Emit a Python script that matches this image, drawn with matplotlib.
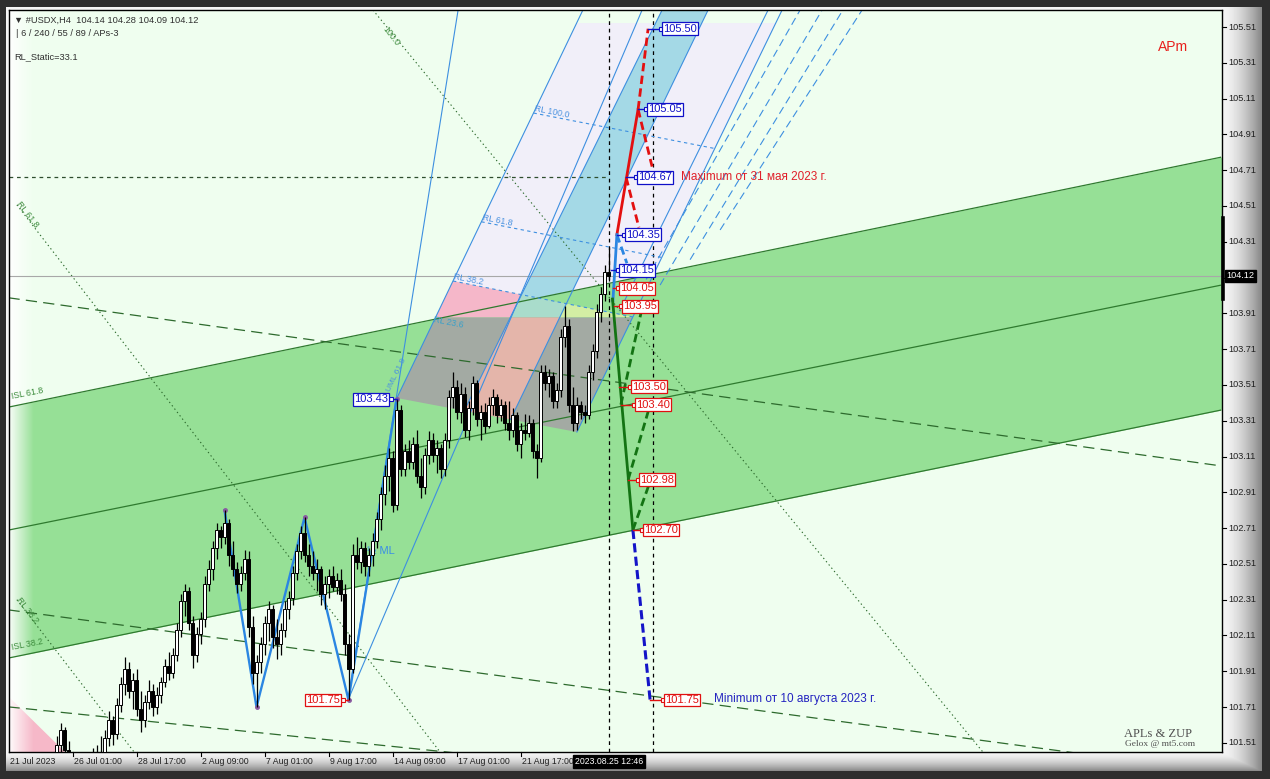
import numpy as np
import matplotlib.pyplot as plt
import matplotlib.transforms as mtransforms
from matplotlib.patches import Polygon

plt.rcParams['font.family'] = ['Liberation Sans', 'DejaVu Sans']

# ---------------- candles (H4 bars, index 0 = 21 Jul 2023) ----------------
first_bar = 12
opens = [101.42, 101.50, 101.58, 101.47, 101.38, 101.32, 101.36, 101.30, 101.35, 101.42,
         101.38, 101.46, 101.44, 101.54, 101.64, 101.56, 101.72, 101.84, 101.92, 101.80,
         101.86, 101.70, 101.64, 101.74, 101.80, 101.71, 101.78, 101.85, 101.94, 101.90,
         102.00, 102.14, 102.30, 102.36, 102.18, 102.00, 102.12, 102.20, 102.40, 102.48,
         102.60, 102.70, 102.66, 102.74, 102.56, 102.48, 102.40, 102.46, 102.54, 102.16,
         101.90, 101.96, 102.06, 102.18, 102.26, 102.10, 102.06, 102.14, 102.26, 102.32,
         102.46, 102.58, 102.68, 102.56, 102.50, 102.46, 102.48, 102.34, 102.40, 102.44,
         102.38, 102.42, 102.34, 102.06, 101.92, 102.56, 102.52, 102.60, 102.50, 102.56,
         102.64, 102.76, 102.90, 103.00, 103.10, 102.84, 103.37, 103.04, 103.14, 103.08,
         103.18, 103.00, 102.94, 103.12, 103.20, 103.12, 103.16, 103.04, 103.20, 103.44,
         103.50, 103.36, 103.46, 103.26, 103.38, 103.52, 103.32, 103.36, 103.28, 103.40,
         103.44, 103.34, 103.40, 103.30, 103.26, 103.34, 103.18, 103.26, 103.24, 103.30,
         103.14, 103.10, 103.58, 103.52, 103.56, 103.42, 103.48, 103.78, 103.84, 103.40,
         103.30, 103.40, 103.36, 103.34, 103.58, 103.70, 103.92, 104.02, 104.14]
highs = [101.55, 101.62, 101.60, 101.52, 101.44, 101.40, 101.42, 101.39, 101.46, 101.48,
         101.50, 101.55, 101.58, 101.69, 101.66, 101.76, 101.88, 101.99, 101.96, 101.90,
         101.92, 101.80, 101.78, 101.86, 101.84, 101.82, 101.88, 101.98, 102.02, 102.04,
         102.18, 102.34, 102.40, 102.38, 102.22, 102.16, 102.24, 102.44, 102.53, 102.64,
         102.74, 102.72, 102.81, 102.76, 102.64, 102.52, 102.50, 102.59, 102.58, 102.22,
         102.00, 102.10, 102.22, 102.30, 102.28, 102.20, 102.18, 102.30, 102.36, 102.50,
         102.62, 102.72, 102.77, 102.62, 102.58, 102.54, 102.50, 102.44, 102.48, 102.50,
         102.46, 102.48, 102.40, 102.12, 102.62, 102.66, 102.64, 102.63, 102.60, 102.68,
         102.80, 102.94, 103.06, 103.16, 103.14, 103.43, 103.40, 103.18, 103.20, 103.22,
         103.26, 103.10, 103.16, 103.25, 103.24, 103.20, 103.18, 103.24, 103.48, 103.58,
         103.54, 103.52, 103.50, 103.42, 103.56, 103.54, 103.40, 103.41, 103.44, 103.49,
         103.46, 103.43, 103.42, 103.42, 103.38, 103.36, 103.30, 103.35, 103.34, 103.32,
         103.18, 103.62, 103.62, 103.60, 103.58, 103.52, 103.82, 103.95, 103.88, 103.50,
         103.44, 103.42, 103.40, 103.62, 103.74, 103.96, 104.06, 104.18, 104.28]
lows = [101.38, 101.46, 101.44, 101.34, 101.28, 101.24, 101.27, 101.22, 101.30, 101.34,
        101.35, 101.40, 101.42, 101.49, 101.50, 101.53, 101.68, 101.78, 101.76, 101.70,
        101.66, 101.57, 101.60, 101.70, 101.66, 101.67, 101.73, 101.82, 101.86, 101.87,
        101.97, 102.10, 102.22, 102.14, 101.93, 101.96, 102.06, 102.16, 102.36, 102.42,
        102.54, 102.60, 102.62, 102.50, 102.44, 102.35, 102.36, 102.42, 102.10, 101.84,
        101.71, 101.90, 102.00, 102.08, 102.04, 101.98, 102.00, 102.10, 102.20, 102.28,
        102.42, 102.54, 102.52, 102.44, 102.42, 102.36, 102.28, 102.26, 102.32, 102.36,
        102.34, 102.30, 102.00, 101.75, 101.90, 102.48, 102.46, 102.44, 102.44, 102.50,
        102.60, 102.70, 102.84, 102.92, 102.80, 102.81, 103.00, 103.00, 103.04, 103.04,
        102.96, 102.88, 102.90, 103.07, 103.08, 103.02, 102.99, 103.00, 103.16, 103.38,
        103.32, 103.30, 103.22, 103.20, 103.34, 103.28, 103.20, 103.24, 103.27, 103.34,
        103.30, 103.31, 103.26, 103.20, 103.22, 103.14, 103.10, 103.20, 103.22, 103.10,
        102.99, 103.08, 103.48, 103.44, 103.38, 103.38, 103.44, 103.72, 103.36, 103.25,
        103.26, 103.32, 103.30, 103.32, 103.54, 103.66, 103.86, 103.98, 104.09]
closes = [101.50, 101.58, 101.47, 101.38, 101.32, 101.36, 101.30, 101.35, 101.42, 101.38,
          101.46, 101.44, 101.54, 101.64, 101.56, 101.72, 101.84, 101.92, 101.80, 101.86,
          101.70, 101.64, 101.74, 101.80, 101.71, 101.78, 101.85, 101.94, 101.90, 102.00,
          102.14, 102.30, 102.36, 102.18, 102.00, 102.12, 102.20, 102.40, 102.48, 102.60,
          102.70, 102.66, 102.74, 102.56, 102.48, 102.40, 102.46, 102.54, 102.16, 101.90,
          101.96, 102.06, 102.18, 102.26, 102.10, 102.06, 102.14, 102.26, 102.32, 102.46,
          102.58, 102.68, 102.56, 102.50, 102.46, 102.48, 102.34, 102.40, 102.44, 102.38,
          102.42, 102.34, 102.06, 101.92, 102.56, 102.52, 102.60, 102.50, 102.56, 102.64,
          102.76, 102.90, 103.00, 103.10, 102.84, 103.37, 103.04, 103.14, 103.08, 103.18,
          103.00, 102.94, 103.12, 103.20, 103.12, 103.16, 103.04, 103.20, 103.44, 103.50,
          103.36, 103.46, 103.26, 103.38, 103.52, 103.32, 103.36, 103.28, 103.40, 103.44,
          103.34, 103.40, 103.30, 103.26, 103.34, 103.18, 103.26, 103.24, 103.30, 103.14,
          103.10, 103.58, 103.52, 103.56, 103.42, 103.48, 103.78, 103.84, 103.40, 103.30,
          103.40, 103.36, 103.34, 103.58, 103.70, 103.92, 104.02, 104.14, 104.12]

time_ticks = [0, 16, 32, 48, 64, 80, 96, 112, 128]
time_labels = ['21 Jul 2023', '26 Jul 01:00', '28 Jul 17:00', '2 Aug 09:00', '7 Aug 01:00',
               '9 Aug 17:00', '14 Aug 09:00', '17 Aug 01:00', '21 Aug 17:00']
price_ticks = [105.51, 105.31, 105.11, 104.91, 104.71, 104.51, 104.31, 104.11, 103.91, 103.71,
               103.51, 103.31, 103.11, 102.91, 102.71, 102.51, 102.31, 102.11, 101.91, 101.71, 101.51]
bid = 104.12
now_bar = 150.1
second_vline = 161.1
day_range = [103.99, 104.44]

# ---------------- objects: (bar, price) anchors ----------------
ch_upper = [(0, 103.386), (303, 104.782)]
ch_mid = [(0, 102.699), (303, 104.067)]
ch_lower = [(0, 101.984), (303, 103.369)]
dash_lines = [[(0, 103.997), (303, 103.058)],
              [(0, 102.253), (303, 101.345)],
              [(0, 101.711), (303, 101.014)]]
dot_lines = [[(91.1, 105.605), (243.6, 101.459)],
             [(2.1, 104.516), (107.9, 101.459)],
             [(2.1, 102.31), (31.4, 101.459)]]
max_level = 104.67
upper_tine = [(97.1, 103.437), (143.6, 105.605)]
lower_tine = [(142.1, 103.247), (193.4, 105.605)]
band_left = [(118.6, 103.577), (163.4, 105.605)]
band_right = [(131.1, 103.577), (174.9, 105.605)]
steep_line = [(84.9, 101.75), (112.4, 105.605)]
median_line = [(84.9, 101.75), (158.4, 105.605)]
gray_bottom = [(97.1, 103.437), (142.1, 103.247)]
gray_top = [(0, 103.887), (300, 103.887)]
rl38 = [(111.1, 104.091), (156.1, 103.89)]
rl61 = [(118.6, 104.42), (172.9, 104.18)]
rl100 = [(131.1, 105.03), (175.9, 104.834)]
lav_top = 105.532
side_solid = [[(152.9, 103.93), (189.9, 105.605)]]
side_dashes = [[(157.9, 104.04), (197.9, 105.605)],
               [(162.9, 104.068), (203.4, 105.605)],
               [(170.4, 104.21), (208.6, 105.605)],
               [(177.9, 104.376), (213.4, 105.605)]]
pink_corner = [(0.125, 101.767), (0.125, 101.459), (14.1, 101.459)]

zup_bars = [54, 62, 74, 85, 97]
zup_prices = [102.81, 101.71, 102.77, 101.75, 103.43]

red_solid = [(152.1, 104.35), (157.4, 105.05)]
red_dashed = [[(157.4, 105.05), (159.9, 105.50)],
              [(157.4, 105.05), (160.9, 104.73)],
              [(154.4, 104.67), (157.6, 104.39)]]
blue_fc_solid = [(151.1, 103.98), (152.1, 104.35)]
blue_fc_dashed = [(152.1, 104.35), (154.6, 104.19)]
green_solid = [(151.0, 103.99), (156.1, 102.70)]
green_dashed = [[(156.1, 102.70), (160.4, 102.97)],
                [(154.9, 102.98), (159.9, 103.36)],
                [(153.1, 103.40), (158.1, 103.91)]]
navy_dashed = [(156.1, 102.70), (160.4, 101.75)]

blue_lbl_prices = [105.50, 105.05, 104.67, 104.35, 104.15]
blue_lbl_pivots = [159.9, 157.4, 154.4, 152.1, 150.6]
blue_lbl_boxes = [163.6, 159.9, 157.4, 154.4, 152.9]
red_lbl_prices = [104.05, 103.95, 103.50, 103.40, 102.98, 102.70, 101.75]
red_lbl_pivots = [151.1, 151.4, 152.6, 153.1, 154.9, 156.1, 160.4]
red_lbl_boxes = [152.9, 153.6, 155.9, 156.9, 157.9, 158.9, 164.1]

BLUE = '#3d8fe0'
DKGREEN = '#2d6a2d'


def at_x(line, x):
    (x1, y1), (x2, y2) = line
    return y1 + (y2 - y1) * (x - x1) / (x2 - x1)


def x_at(line, y):
    (x1, y1), (x2, y2) = line
    return x1 + (x2 - x1) * (y - y1) / (y2 - y1)


def cross(a, b):
    (x1, y1), (x2, y2) = a
    (x3, y3), (x4, y4) = b
    m1 = (y2 - y1) / (x2 - x1)
    m2 = (y4 - y3) / (x4 - x3)
    x = (y3 - y1 + m1 * x1 - m2 * x3) / (m1 - m2)
    return (x, y1 + m1 * (x - x1))


fig = plt.figure(figsize=(12.7, 7.79), dpi=100)
fig.patch.set_facecolor('#2e2e2e')

# terminal frame
bg = fig.add_axes([0, 0, 1, 1], zorder=-5)
H, W = 779, 1270
yy, xx = np.mgrid[0:H, 0:W]
shade = np.full((H, W), 0.18)
inside = (xx >= 6) & (xx < 1262) & (yy >= 7) & (yy < 771)
rx = np.clip((xx - 1222) / 40.0, 0, 1)
by = np.clip((yy - 752) / 19.0, 0, 1)
s = 0.96 - 0.45 * np.maximum(rx, by) ** 1.6
shade[inside] = s[inside]
bg.imshow(shade, cmap='gray', vmin=0, vmax=1, extent=(0, W, H, 0), aspect='auto')
bg.set_axis_off()

ax = fig.add_axes([9 / 1270, 27 / 779, 1213 / 1270, 742 / 779])
ax.set_facecolor('#effeef')
xmin, xmax = 0.125, 303.375
ymin, ymax = 101.459, 105.605
ax.set_xticks([])
ax.set_yticks([])
for sp in ax.spines.values():
    sp.set_color('black')
    sp.set_linewidth(1.0)


def poly(pts, color, z):
    ax.add_patch(Polygon(pts, closed=True, facecolor=color, edgecolor='none', zorder=z))


# lavender pitchfork zone
lav = [cross(upper_tine, rl38), (x_at(upper_tine, lav_top), lav_top),
       (x_at(lower_tine, lav_top), lav_top), cross(lower_tine, rl38)]
poly(lav, '#f1eff9', 1.0)
# cyan band above RL 38.2
poly([cross(band_left, rl38), (x_at(band_left, ymax), ymax),
      (x_at(band_right, ymax), ymax), cross(band_right, rl38)], '#a4d9e6', 1.1)

# green channel
xs = np.array([xmin, xmax])
ax.fill_between(xs, [at_x(ch_lower, v) for v in xs], [at_x(ch_upper, v) for v in xs],
                color='#96e096', lw=0, zorder=1.2)
poly(pink_corner, '#f6b8c8', 1.25)

# zones between RL 38.2 and the gray block
poly([cross(upper_tine, gray_top), cross(upper_tine, rl38),
      cross(band_left, rl38), cross(band_left, gray_top)], '#f5b7c9', 1.3)
poly([cross(band_left, rl38), cross(band_left, gray_top),
      cross(band_right, gray_top), cross(band_right, rl38)], '#a9dccb', 1.3)
poly([cross(band_right, rl38), cross(lower_tine, rl38), cross(band_right, gray_top)],
     '#d3eea4', 1.3)
poly([cross(upper_tine, gray_top), cross(lower_tine, gray_top),
      cross(lower_tine, gray_bottom), cross(upper_tine, gray_bottom)], '#a3aaa3', 1.4)
poly([cross(band_left, gray_top), cross(band_right, gray_top),
      cross(band_right, gray_bottom), cross(band_left, gray_bottom)], '#e4b5aa', 1.45)

# white fade at the left edge
fade = np.ones((1, 64, 4))
fade[0, :, 3] = np.linspace(0.95, 0.0, 64)
ax.imshow(fade, extent=(0, 0.02, 0, 1), transform=ax.transAxes, aspect='auto', zorder=1.9)
ax.set_xlim(xmin, xmax)
ax.set_ylim(ymin, ymax)


def seg(line, **kw):
    ax.plot([p[0] for p in line], [p[1] for p in line], **kw)


for ln in (ch_upper, ch_mid, ch_lower):
    seg(ln, color='#2f7a2f', lw=0.9, zorder=2)
for ln in dash_lines:
    seg(ln, color=DKGREEN, lw=0.9, dashes=(9, 5), zorder=2)
for ln in dot_lines:
    seg(ln, color=DKGREEN, lw=0.8, dashes=(1.2, 2.6), zorder=2)
ax.plot([xmin, 150], [max_level] * 2, color='#2e4e2e', lw=0.9, dashes=(3, 3), zorder=2)
ax.axhline(bid, color='#a8a8a8', lw=0.8, zorder=2)
for xv in (now_bar, second_vline):
    ax.axvline(xv, color='black', lw=0.9, dashes=(3, 3), zorder=2)

# pitchfork lines
for ln in (upper_tine, lower_tine, band_left, band_right):
    seg([cross(ln, gray_bottom), (x_at(ln, ymax), ymax)], color=BLUE, lw=0.8, zorder=2.1)
seg(steep_line, color=BLUE, lw=0.8, zorder=2.1)
seg(median_line, color=BLUE, lw=0.8, zorder=2.1)
for ln in side_solid:
    seg(ln, color=BLUE, lw=0.8, zorder=2.1)
for ln in side_dashes:
    seg(ln, color=BLUE, lw=0.8, dashes=(7, 4), zorder=2.1)
for ln in (rl38, rl61, rl100):
    seg([cross(upper_tine, ln), cross(lower_tine, ln)], color=BLUE, lw=0.8, dashes=(3, 3), zorder=2.1)

# ZUP zigzag
ax.plot(zup_bars, zup_prices, color='#2b86e2', lw=1.7, zorder=3)
ax.plot(zup_bars, zup_prices, ls='none', marker='o', ms=2.5, color='#8a5aa0', zorder=3.1)

# candles
bars = np.arange(first_bar, first_bar + len(closes))
o = np.array(opens)
c = np.array(closes)
ax.vlines(bars, lows, highs, color='black', lw=0.9, zorder=4)
up = c >= o
ax.bar(bars[up], np.maximum(c[up] - o[up], 0.006), bottom=o[up], width=0.62,
       color='white', edgecolor='black', lw=0.7, zorder=4.1)
ax.bar(bars[~up], o[~up] - c[~up], bottom=c[~up], width=0.62,
       color='black', edgecolor='black', lw=0.7, zorder=4.1)

# forecast lines
seg(red_solid, color='#e31010', lw=2.0, zorder=5)
for ln in red_dashed:
    seg(ln, color='#e31010', lw=2.0, dashes=(3, 1.6), zorder=5)
seg(blue_fc_solid, color='#2b86e2', lw=2.0, zorder=5)
seg(blue_fc_dashed, color='#2b86e2', lw=2.0, dashes=(3, 1.6), zorder=5)
seg(green_solid, color='#137313', lw=2.0, zorder=5)
for ln in green_dashed:
    seg(ln, color='#137313', lw=2.0, dashes=(3, 1.6), zorder=5)
seg(navy_dashed, color='#1414c8', lw=2.2, dashes=(3, 1.4), zorder=5)


def price_box(price, pivot, box, color, side='left'):
    end = box - 0.6 if side == 'left' else box + 0.6
    ax.plot([pivot, end], [price, price], color=color, lw=1.0, zorder=6)
    ax.plot([end], [price], marker='s', ms=3, mfc='white', mec=color, mew=0.8, zorder=6.1)
    ax.text(box, price, '%.2f' % price, color=color, fontsize=8, ha=side, va='center',
            zorder=7, bbox=dict(boxstyle='square,pad=0.12', fc='white', ec=color, lw=0.9))


for p, pv, bx in zip(blue_lbl_prices, blue_lbl_pivots, blue_lbl_boxes):
    price_box(p, pv, bx, '#1010c8')
for p, pv, bx in zip(red_lbl_prices, red_lbl_pivots, red_lbl_boxes):
    price_box(p, pv, bx, '#e01010')
price_box(103.43, 97.1, 94.9, '#1010c8', side='right')
price_box(101.75, 84.9, 82.9, '#e01010', side='right')

ax.text(168.1, 104.67, 'Maximum от 31 мая 2023 г.', color='#e0202a', fontsize=8.5,
        va='center', zorder=7)
ax.text(176.4, 101.757, 'Minimum от 10 августа 2023 г.', color='#2424c0', fontsize=8.5,
        va='center', zorder=7)

# level captions
lbl = dict(color='#4a92e0', fontsize=6.3, zorder=3, ha='left', va='bottom')
for ln, name in ((rl100, 'RL 100.0'), (rl61, 'RL 61.8'), (rl38, 'RL 38.2')):
    x0, y0 = cross(upper_tine, ln)
    ax.text(x0, y0, name, rotation=-11, rotation_mode='anchor', **lbl)
ax.text(106.2, 103.86, 'RL 23.6', color='#3aa0c8', fontsize=6.3, rotation=-11,
        rotation_mode='anchor', zorder=3)
ax.text(89.6, 102.58, '½ ML', color='#3a8ee6', fontsize=8, va='center', zorder=3)
ax.text(95.4, 103.47, 'UML 61.8', color='#4a92e0', fontsize=6, rotation=64,
        rotation_mode='anchor', zorder=3)
glbl = dict(color='#3c8c3c', fontsize=6.3, zorder=3, rotation_mode='anchor')
ax.text(93.5, 105.50, '100.0', rotation=-52, **glbl)
ax.text(2.0, 104.52, 'RL 61.8', rotation=-52, **glbl)
ax.text(2.0, 102.31, 'RL 38.2', rotation=-52, **glbl)
ax.text(0.9, 103.43, 'ISL 61.8', rotation=11, **glbl)
ax.text(0.9, 102.03, 'ISL 38.2', rotation=11, **glbl)

# header / corner texts
ax.text(0.004, 0.992, '▼ #USDX,H4  104.14 104.28 104.09 104.12', transform=ax.transAxes,
        fontsize=6.7, color='#303030', va='top', zorder=8)
ax.text(0.006, 0.975, '| 6 / 240 / 55 / 89 / APs-3', transform=ax.transAxes,
        fontsize=6.7, color='#303030', va='top', zorder=8)
ax.text(0.004, 0.943, 'RL_Static=33.1', transform=ax.transAxes,
        fontsize=6.7, color='#303030', va='top', zorder=8)
ax.text(0.947, 0.95, 'APm', transform=ax.transAxes, fontsize=10, color='#e8201c',
        va='center', zorder=8)
ax.text(0.975, 0.024, 'APLs & ZUP', transform=ax.transAxes, fontsize=9, color='#505050',
        ha='right', va='center', family='Liberation Serif', zorder=8)
ax.text(0.978, 0.011, 'Gelox @ mt5.com', transform=ax.transAxes, fontsize=6.8,
        color='#505050', ha='right', va='center', family='Liberation Serif', zorder=8)

# price scale
ytr = mtransforms.blended_transform_factory(ax.transAxes, ax.transData)
for p in price_ticks:
    ax.plot([1.0, 1.0035], [p, p], color='black', lw=0.8, transform=ytr, clip_on=False)
    ax.text(1.0055, p, '%.2f' % p, transform=ytr, fontsize=6.6, color='#202020',
            va='center', ha='left')
ax.plot([1.0012, 1.0012], day_range, color='black', lw=2.6, transform=ytr, clip_on=False)
ax.text(1.0035, bid, '%.2f' % bid, transform=ytr, fontsize=6.6, color='white',
        va='center', ha='left', zorder=9,
        bbox=dict(boxstyle='square,pad=0.18', fc='black', ec='black'))

# time scale
xtr = mtransforms.blended_transform_factory(ax.transData, ax.transAxes)
for t, lab in zip(time_ticks, time_labels):
    if t > xmin:
        ax.plot([t, t], [0, -0.006], color='black', lw=0.8, transform=xtr, clip_on=False)
    ax.text(max(t, xmin) + 0.3, -0.0125, lab, transform=xtr, fontsize=6.3, color='#202020',
            va='center', ha='left')
ax.text(now_bar, -0.0125, '2023.08.25 12:46', transform=xtr, fontsize=6.3, color='white',
        va='center', ha='center', zorder=9,
        bbox=dict(boxstyle='square,pad=0.2', fc='black', ec='black'))

fig.savefig('out.png', dpi=100, facecolor=fig.get_facecolor())
